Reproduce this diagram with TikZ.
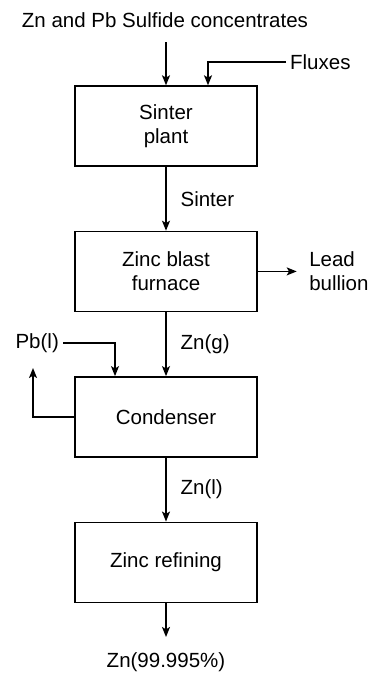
\documentclass[tikz,border=0pt]{standalone}
\usepackage{fontspec}
\setmainfont{Liberation Sans}
\usetikzlibrary{arrows.meta,positioning,calc}
\tikzset{
  egyseg/.style={draw,line width=1.2pt,minimum width=5.46cm,minimum height=2.4cm,align=center},
  nyil/.style={-{Stealth[length=3mm,width=2.4mm,inset=0.7mm]},line width=1.2pt},
  cimke/.style={midway,right=3mm},
}

\begin{document}
\begin{tikzpicture}[x=0.03cm,y=-0.03cm,font=\fontsize{17.5}{20.5}\selectfont,node distance=1.92cm]
  \useasboundingbox (0,0) rectangle (369,673);
  \node[egyseg] (sinter) at (166,126) {Sinter\\plant};
  \node[egyseg,below=of sinter] (kemence) {Zinc blast\\furnace};
  \node[egyseg,below=of kemence] (kondenzator) {Condenser};
  \node[egyseg,below=of kondenzator] (finomito) {Zinc refining};
  \node (erc) at (165,20) {Zn and Pb Sulfide concentrates};
  \node[anchor=west] (folyasz) at (286,62) {Fluxes};
  \node[align=left,inner xsep=3.7mm,right=1.17cm of kemence] (olom) {Lead\\bullion};
  \node[anchor=east] (pb) at (63,343) {Pb(l)};
  \node (termek) at (166,662) {Zn(99.995\%)};
  \coordinate (be) at (166,42);
  \coordinate (vissza) at (33,368);
  \coordinate (ki) at (166,637);
  \draw[nyil] (be) -- (sinter);
  \draw[nyil] (folyasz.west) -| ($(sinter.north)+(42,0)$);
  \draw[nyil] (sinter) -- node[cimke] {Sinter} (kemence);
  \draw[nyil] (kemence.east) -- (olom.west);
  \draw[nyil] (kemence) -- node[cimke] {Zn(g)} (kondenzator);
  \draw[nyil] (pb.east) -| ($(kondenzator.north)+(-51,0)$);
  \draw[nyil] (kondenzator.west) -| (vissza);
  \draw[nyil] (kondenzator) -- node[cimke] {Zn(l)} (finomito);
  \draw[nyil] (finomito) -- (ki);
\end{tikzpicture}
\end{document}
